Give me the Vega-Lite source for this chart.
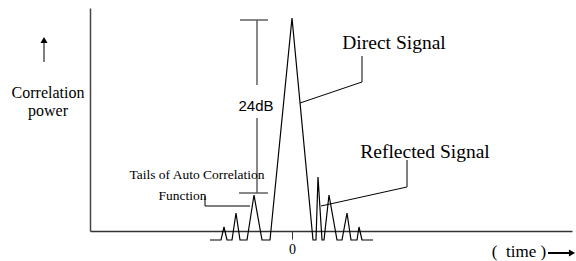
{
  "$schema": "https://vega.github.io/schema/vega-lite/v6.json",
  "width": 482,
  "height": 223,
  "autosize": {"type": "none"},
  "padding": {"left": 90, "top": 8, "right": 4, "bottom": 30},
  "background": "white",
  "config": {"view": {"stroke": null}},
  "datasets": {
    "wave": [
      {"x": -8.2, "y": -0.9}, {"x": -7.1, "y": -0.9}, {"x": -6.8, "y": 0.4}, {"x": -6.5, "y": -0.9},
      {"x": -6.0, "y": -0.9}, {"x": -5.6, "y": 1.8}, {"x": -5.2, "y": -0.9}, {"x": -4.5, "y": -0.9},
      {"x": -3.8, "y": 3.6}, {"x": -3.0, "y": -0.9}, {"x": -2.2, "y": -0.9}, {"x": 0, "y": 21.3},
      {"x": 2.1, "y": -0.9}, {"x": 2.4, "y": -0.9}, {"x": 2.6, "y": 5.4}, {"x": 3.0, "y": -0.9},
      {"x": 3.2, "y": -0.9}, {"x": 3.7, "y": 3.6}, {"x": 4.5, "y": -0.9}, {"x": 5.0, "y": -0.9},
      {"x": 5.5, "y": 1.8}, {"x": 5.9, "y": -0.9}, {"x": 6.5, "y": -0.9}, {"x": 6.7, "y": 0.4},
      {"x": 7.0, "y": -0.9}, {"x": 8.1, "y": -0.9}
    ],
    "bracket": [
      {"x": -5.2, "y": 21.1, "x2": -2.4, "y2": 21.1},
      {"x": -3.5, "y": 21.1, "x2": -3.5, "y2": 14.6},
      {"x": -3.5, "y": 11.3, "x2": -3.5, "y2": 3.8},
      {"x": -5.3, "y": 3.8, "x2": -2.4, "y2": 3.8}
    ],
    "leaders": [
      {"x": 0.8, "y": 12.8, "x2": 7.0, "y2": 14.9},
      {"x": 7.0, "y": 14.9, "x2": 7.0, "y2": 17.5},
      {"x": 2.9, "y": 2.5, "x2": 11.5, "y2": 4.4},
      {"x": 11.5, "y": 4.4, "x2": 11.5, "y2": 7.1},
      {"x": -8.7, "y": 3.5, "x2": -8.7, "y2": 2.5},
      {"x": -8.7, "y": 2.5, "x2": -4.2, "y2": 2.5},
      {"x": -24.8, "y": 16.9, "x2": -24.8, "y2": 18.8}
    ],
    "timeArrow": [
      {"x": 25.6, "y": -2.2, "x2": 27.8, "y2": -2.2}
    ],
    "upHead": [{"x": -24.8, "y": 19.1}],
    "rightHead": [{"x": 28.0, "y": -2.2}],
    "bigLabels": [
      {"x": 10.2, "y": 18.8, "label": "Direct Signal"},
      {"x": 13.3, "y": 7.9, "label": "Reflected Signal"}
    ],
    "midLabels": [
      {"x": -24.4, "y": 13.8, "label": "Correlation"},
      {"x": -24.4, "y": 12.0, "label": "power"}
    ],
    "timeLabel": [
      {"x": 22.7, "y": -2.1, "label": "( \u00a0time )"}
    ],
    "smallLabels": [
      {"x": -9.5, "y": 5.6, "label": "Tails of Auto Correlation"},
      {"x": -10.95, "y": 3.5, "label": "Function"}
    ],
    "dbLabel": [
      {"x": -3.6, "y": 12.5, "label": "24dB"}
    ]
  },
  "encoding": {
    "x": {
      "field": "x", "type": "quantitative",
      "scale": {"domain": [-20.2, 28.0], "nice": false, "zero": false},
      "axis": {
        "title": null, "grid": false, "domain": true, "domainColor": "#333", "domainWidth": 1.5,
        "values": [0], "ticks": true, "tickSize": 8, "tickColor": "#333", "tickWidth": 1,
        "labels": true, "labelFont": "Liberation Serif", "labelFontSize": 14, "labelColor": "black", "labelPadding": 3
      }
    },
    "y": {
      "field": "y", "type": "quantitative",
      "scale": {"domain": [0, 22.3], "nice": false, "zero": false},
      "axis": {
        "title": null, "grid": false, "domain": true, "domainColor": "#444", "domainWidth": 1.5,
        "ticks": false, "labels": false
      }
    }
  },
  "layer": [
    {
      "data": {"name": "wave"},
      "mark": {"type": "line", "color": "black", "strokeWidth": 1.2}
    },
    {
      "data": {"name": "bracket"},
      "mark": {"type": "rule", "color": "#555", "strokeWidth": 1.4},
      "encoding": {"x2": {"field": "x2"}, "y2": {"field": "y2"}}
    },
    {
      "data": {"name": "leaders"},
      "mark": {"type": "rule", "color": "black", "strokeWidth": 1},
      "encoding": {"x2": {"field": "x2"}, "y2": {"field": "y2"}}
    },
    {
      "data": {"name": "timeArrow"},
      "mark": {"type": "rule", "color": "black", "strokeWidth": 2},
      "encoding": {"x2": {"field": "x2"}, "y2": {"field": "y2"}}
    },
    {
      "data": {"name": "upHead"},
      "mark": {"type": "point", "shape": "triangle-up", "filled": true, "color": "black", "size": 50, "opacity": 1}
    },
    {
      "data": {"name": "rightHead"},
      "mark": {"type": "point", "shape": "triangle-right", "filled": true, "color": "black", "size": 50, "opacity": 1}
    },
    {
      "data": {"name": "bigLabels"},
      "mark": {"type": "text", "font": "Liberation Serif", "fontSize": 19.5, "align": "center", "baseline": "middle", "color": "black"},
      "encoding": {"text": {"field": "label"}}
    },
    {
      "data": {"name": "midLabels"},
      "mark": {"type": "text", "font": "Liberation Serif", "fontSize": 16, "align": "center", "baseline": "middle", "color": "black"},
      "encoding": {"text": {"field": "label"}}
    },
    {
      "data": {"name": "timeLabel"},
      "mark": {"type": "text", "font": "Liberation Serif", "fontSize": 17, "align": "center", "baseline": "middle", "color": "black"},
      "encoding": {"text": {"field": "label"}}
    },
    {
      "data": {"name": "smallLabels"},
      "mark": {"type": "text", "font": "Liberation Serif", "fontSize": 13.5, "align": "center", "baseline": "middle", "color": "black"},
      "encoding": {"text": {"field": "label"}}
    },
    {
      "data": {"name": "dbLabel"},
      "mark": {"type": "text", "font": "Liberation Sans", "fontSize": 15, "align": "center", "baseline": "middle", "color": "black"},
      "encoding": {"text": {"field": "label"}}
    }
  ]
}
